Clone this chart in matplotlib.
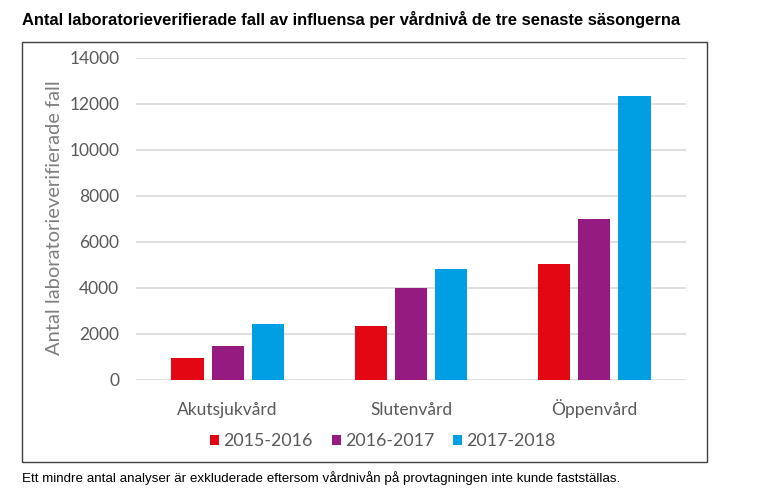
import matplotlib
matplotlib.use("Agg")
import matplotlib.pyplot as plt
from matplotlib.patches import Rectangle
import numpy as np

categories = ["Akutsjukvård", "Slutenvård", "Öppenvård"]
seasons = ["2015-2016", "2016-2017", "2017-2018"]
values_2015_2016 = [960, 2340, 5060]
values_2016_2017 = [1500, 3990, 7020]
values_2017_2018 = [2450, 4840, 12340]
colors = ["#E30613", "#951B81", "#009FE3"]
yticks = [0, 2000, 4000, 6000, 8000, 10000, 12000, 14000]

title = "Antal laboratorieverifierade fall av influensa per vårdnivå de tre senaste säsongerna"
ylabel = "Antal laboratorieverifierade fall"
footnote = "Ett mindre antal analyser är exkluderade eftersom vårdnivån på provtagningen inte kunde fastställas."

W, H = 760, 497
fig = plt.figure(figsize=(W / 100, H / 100), dpi=100)

def fx(px):
    return px / W

def fy(py):
    return 1 - py / H

ax = fig.add_axes([fx(136), fy(380), fx(686) - fx(136), fy(58) - fy(380)])

series = [values_2015_2016, values_2016_2017, values_2017_2018]
x = np.arange(len(categories))
bw = 0.175
step = 0.219
for i, (vals, c, lab) in enumerate(zip(series, colors, seasons)):
    ax.bar(x + (i - 1) * step, vals, width=bw, color=c, label=lab, zorder=3)

ax.set_xlim(-0.5, len(categories) - 0.5)
ax.set_ylim(0, 14000)
ax.set_yticks(yticks)
ax.set_yticklabels([str(t) for t in yticks])
ax.set_xticks(x)
ax.set_xticklabels(categories)
ax.grid(axis="y", color="#D9D9D9", linewidth=1.2, zorder=0)
ax.set_axisbelow(True)
for s in ["top", "right", "left", "bottom"]:
    ax.spines[s].set_visible(False)
ax.tick_params(axis="both", length=0, labelsize=12.5, colors="#595959")
ax.tick_params(axis="y", pad=12)
ax.tick_params(axis="x", pad=25)
for t in ax.get_yticklabels():
    t.set_fontfamily("Lato")
for t in ax.get_xticklabels():
    t.set_fontfamily("Lato")
    t.set_verticalalignment("baseline")
ax.set_ylabel(ylabel, fontsize=14.5, color="#7F7F7F", family="Lato")
ax.yaxis.set_label_coords(-(136 - 63) / 550, (380 - 218) / 322)

leg = fig.legend(loc="center", bbox_to_anchor=(fx(383), fy(441)), ncol=3, frameon=False,
                 prop={"family": "Lato", "size": 12.8}, handlelength=0.5, handleheight=0.5,
                 handletextpad=0.25, columnspacing=1.05)
for t in leg.get_texts():
    t.set_color("#595959")

fig.patches.append(Rectangle((fx(22), fy(462)), fx(707) - fx(22), fy(42) - fy(462),
                             transform=fig.transFigure, fill=False, edgecolor="#404040",
                             linewidth=1.0))

fig.text(fx(22), fy(20), title, fontsize=11.9, fontweight="bold", family="Liberation Sans",
         va="center", ha="left", color="black")
fig.text(fx(22), fy(478), footnote, fontsize=9.6, family="Liberation Sans",
         va="center", ha="left", color="black")

fig.savefig("out.png", dpi=100)
